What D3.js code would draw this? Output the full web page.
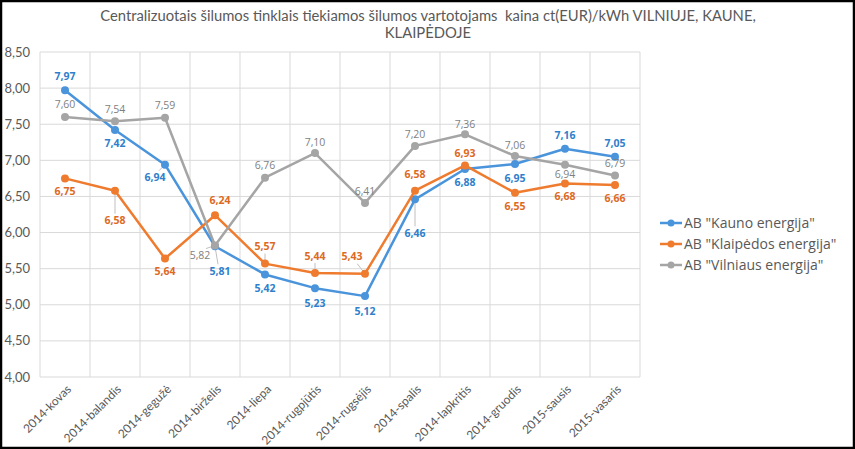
<!DOCTYPE html>
<html>
<head>
<meta charset="utf-8">
<script src="https://cdn.jsdelivr.net/npm/d3@7"></script>
<style>
  body { margin: 0; background: #fff; }
  text { font-family: Lato, "Open Sans", sans-serif; }
  text.os { font-family: "Open Sans", sans-serif; }
</style>
</head>
<body>
<div id="chart"></div>
<script>
const months = ['2014-kovas', '2014-balandis', '2014-gegužė', '2014-birželis', '2014-liepa',
  '2014-rugpjūtis', '2014-rugsėjis', '2014-spalis', '2014-lapkritis', '2014-gruodis',
  '2015-sausis', '2015-vasaris'];

const seriesNames = ['AB "Kauno energija"', 'AB "Klaipėdos energija"', 'AB "Vilniaus energija"'];

const kaunas = [7.97, 7.42, 6.94, 5.81, 5.42, 5.23, 5.12, 6.46, 6.88, 6.95, 7.16, 7.05];
const klaipeda = [6.75, 6.58, 5.64, 6.24, 5.57, 5.44, 5.43, 6.58, 6.93, 6.55, 6.68, 6.66];
const vilnius = [7.60, 7.54, 7.59, 5.82, 6.76, 7.10, 6.41, 7.20, 7.36, 7.06, 6.94, 6.79];

const yTicks = [4.0, 4.5, 5.0, 5.5, 6.0, 6.5, 7.0, 7.5, 8.0, 8.5];

// label placement (dx, dy from the point), picked by eye
const kaunasLabelPos = [[0,-14],[0,13],[-10,13],[5,25],[0,14],[0,15],[0,15],[0,34],[0,13],[0,14],[0,-13],[0,-13]];
const klaipedaLabelPos = [[0,13],[0,30],[0,13],[5,-15],[0,-17],[0,-17],[-13,-17],[0,-16],[0,-12],[0,13],[0,13],[0,13]];
const vilniusLabelPos = [[0,-13],[0,-12],[0,-12],[-15,10],[0,-12],[0,-11],[0,-12],[0,-12],[0,-10],[0,-11],[0,10],[0,-12]];

const W = 855, H = 449;
const margin = {top: 52, left: 40, right: 215, bottom: 72};

const svg = d3.select('#chart').append('svg')
  .attr('width', W)
  .attr('height', H);

svg.append('rect')
  .attr('x', 1).attr('y', 1)
  .attr('width', W - 2).attr('height', H - 2)
  .attr('fill', '#fff')
  .attr('stroke', '#000')
  .attr('stroke-width', 2.5);

const x = d3.scaleBand()
  .domain(months)
  .range([margin.left, W - margin.right]);

const y = d3.scaleLinear()
  .domain([4, 8.5])
  .range([H - margin.bottom, margin.top]);

const fmt = v => d3.format('.2f')(v).replace('.', ',');

// title
svg.append('text')
  .attr('x', 428).attr('y', 21)
  .attr('text-anchor', 'middle')
  .attr('fill', '#595959')
  .attr('font-size', 14.8)
  .text('Centralizuotais šilumos tinklais tiekiamos šilumos vartotojams\u00a0 kaina ct(EUR)/kWh VILNIUJE, KAUNE,');
svg.append('text')
  .attr('x', 428).attr('y', 38)
  .attr('text-anchor', 'middle')
  .attr('fill', '#595959')
  .attr('font-size', 14.8)
  .text('KLAIPĖDOJE');

// gridlines
const grid = svg.append('g');
grid.selectAll('.hgrid')
  .data(yTicks)
  .join('line')
    .attr('x1', margin.left).attr('x2', W - margin.right)
    .attr('y1', d => y(d)).attr('y2', d => y(d))
    .attr('stroke', '#d9d9d9');

const bandEdges = months.map(m => x(m)).concat([x.range()[1]]);
grid.selectAll('.vgrid')
  .data(bandEdges)
  .join('line')
    .attr('x1', d => d).attr('x2', d => d)
    .attr('y1', y(8.5)).attr('y2', y(4))
    .attr('stroke', '#d9d9d9');

// y axis labels
svg.append('g').selectAll('text')
  .data(yTicks)
  .join('text')
    .attr('x', 30)
    .attr('y', d => y(d))
    .attr('dy', '0.35em')
    .attr('text-anchor', 'end')
    .attr('fill', '#595959')
    .attr('font-size', 13)
    .text(fmt);

// x axis labels
svg.append('g').selectAll('text')
  .data(months)
  .join('text')
    .attr('transform', d => `translate(${x(d) + x.bandwidth() / 2 + 4},${y(4) + 10}) rotate(-45)`)
    .attr('text-anchor', 'end')
    .attr('dy', '0.35em')
    .attr('fill', '#595959')
    .attr('font-size', 12)
    .text(d => d);

const series = [
  {name: seriesNames[0], values: kaunas, color: '#4a94dc', labelColor: '#2f80cc', weight: 'bold', pos: kaunasLabelPos},
  {name: seriesNames[1], values: klaipeda, color: '#ef7b2e', labelColor: '#dd6a1f', weight: 'bold', pos: klaipedaLabelPos},
  {name: seriesNames[2], values: vilnius, color: '#a5a5a5', labelColor: '#7f7f7f', weight: 'normal', pos: vilniusLabelPos}
];

const cx = i => x(months[i]) + x.bandwidth() / 2;

const line = d3.line()
  .x((d, i) => cx(i))
  .y(d => y(d));

// leader lines first, under everything
series.forEach(s => {
  s.values.forEach((v, i) => {
    const [dx, dy] = s.pos[i];
    if (Math.abs(dy) > 16 || Math.abs(dx) > 8) {
      const sign = dy > 0 ? 1 : -1;
      svg.append('line')
        .attr('x1', cx(i)).attr('y1', y(v))
        .attr('x2', cx(i) + dx * 0.6).attr('y2', y(v) + dy - sign * 7)
        .attr('stroke', '#bfbfbf')
        .attr('stroke-width', 1);
    }
  });
});

series.forEach(s => {
  const g = svg.append('g');
  g.append('path')
    .datum(s.values)
    .attr('d', line)
    .attr('fill', 'none')
    .attr('stroke', s.color)
    .attr('stroke-width', 2.5)
    .attr('stroke-linejoin', 'round');
  g.selectAll('circle')
    .data(s.values)
    .join('circle')
      .attr('cx', (d, i) => cx(i))
      .attr('cy', d => y(d))
      .attr('r', 4)
      .attr('fill', s.color);
});

series.forEach(s => {
  svg.append('g').selectAll('text')
    .data(s.values)
    .join('text')
      .attr('class', 'os')
      .attr('x', (d, i) => cx(i) + s.pos[i][0])
      .attr('y', (d, i) => y(d) + s.pos[i][1])
      .attr('dy', '0.35em')
      .attr('text-anchor', 'middle')
      .attr('fill', s.labelColor)
      .attr('font-size', 10.5)
      .attr('font-weight', s.weight)
      .text(fmt);
});

// legend
const legend = svg.append('g').attr('transform', 'translate(660,223)');
series.forEach((s, i) => {
  const row = legend.append('g').attr('transform', `translate(0,${i * 21})`);
  row.append('line')
    .attr('x1', 0).attr('x2', 22)
    .attr('stroke', s.color)
    .attr('stroke-width', 2.5);
  row.append('circle')
    .attr('cx', 11).attr('r', 3.5)
    .attr('fill', s.color);
  row.append('text')
    .attr('class', 'os')
    .attr('x', 24)
    .attr('dy', '0.35em')
    .attr('fill', '#595959')
    .attr('font-size', 14)
    .text(s.name);
});
</script>
</body>
</html>
